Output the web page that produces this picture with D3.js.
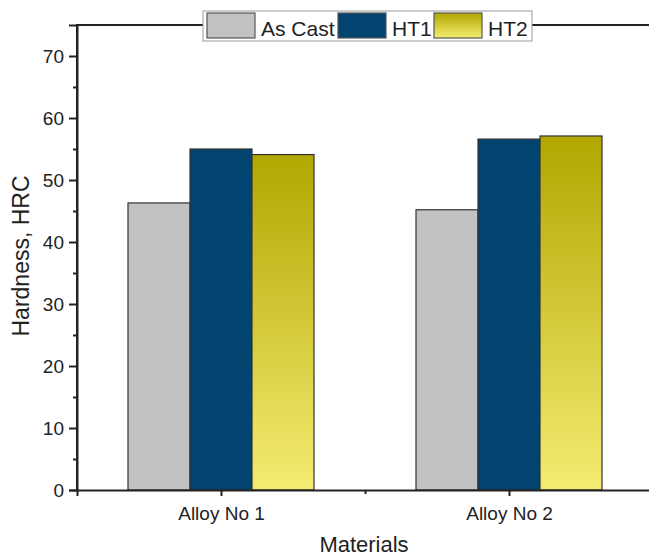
<!DOCTYPE html>
<html><head><meta charset="utf-8">
<script src="https://cdn.jsdelivr.net/npm/d3@7/dist/d3.min.js"></script>
<style>body{margin:0;background:#fff}svg{display:block;font-family:"Liberation Sans",Arial,sans-serif}</style>
</head><body><svg id="c" width="649" height="559"></svg>
<script>
const categories = ["Alloy No 1", "Alloy No 2"];
const seriesNames = ["As Cast", "HT1", "HT2"];
const asCast = [46.3, 45.2];
const ht1 = [55.0, 56.6];
const ht2 = [54.1, 57.1];
const yTicks = [0, 10, 20, 30, 40, 50, 60, 70];

(function () {
const svg = d3.select("#c");
const mLeft = 77, mTop = 25, mBottom = 490, mRight = 653;
const y = d3.scaleLinear().domain([0, 75]).range([mBottom, mTop]);
const x = d3.scaleLinear().domain([0.5, 2.5]).range([mLeft, mRight]);
const barW = 62;

const defs = svg.append("defs");
const g = defs.append("linearGradient").attr("id","ht2g").attr("x1",0).attr("y1",0).attr("x2",0).attr("y2",1);
g.append("stop").attr("offset","0%").attr("stop-color","#b2a600");
g.append("stop").attr("offset","100%").attr("stop-color","#f4ec72");

const fills = ["#c2c2c2", "#02436f", "url(#ht2g)"];
const data = [asCast, ht1, ht2];

data.forEach((vals, s) => {
  svg.append("g").selectAll("rect").data(vals).join("rect")
    .attr("x", (d, i) => x(i + 1) - 1.5 * barW + s * barW)
    .attr("y", d => y(d))
    .attr("width", barW)
    .attr("height", d => y(0) - y(d))
    .attr("fill", fills[s])
    .attr("stroke", "#333")
    .attr("stroke-width", 1.2);
});

svg.append("g").attr("transform", `translate(${mLeft},0)`)
  .call(d3.axisLeft(y).tickValues(yTicks).tickSize(8).tickPadding(5).tickFormat(d3.format("d")));
svg.append("g").attr("transform", `translate(${mLeft},0)`)
  .call(d3.axisLeft(y).tickValues([5,15,25,35,45,55,65]).tickSize(4).tickFormat(""))
  .call(a => a.select(".domain").remove());

svg.append("g").attr("transform", `translate(0,${mBottom})`)
  .call(d3.axisBottom(x).tickValues([1, 2]).tickSize(6).tickPadding(11).tickFormat(d => categories[d - 1]));
svg.append("g").attr("transform", `translate(0,${mBottom})`)
  .call(d3.axisBottom(x).tickValues([1.5]).tickSize(4).tickFormat(""))
  .call(a => a.select(".domain").remove());

svg.selectAll(".tick text").attr("font-size", 19).attr("fill", "#222").attr("font-family", '"Liberation Sans",Arial,sans-serif');
svg.selectAll(".tick line").attr("stroke", "#222").attr("stroke-width", 2);
svg.selectAll(".domain").attr("stroke", "#222").attr("stroke-width", 2);

svg.append("line").attr("x1", mLeft).attr("x2", 649).attr("y1", y(75)).attr("y2", y(75))
  .attr("stroke", "#222").attr("stroke-width", 2);
svg.append("line").attr("x1", mLeft).attr("x2", mLeft).attr("y1", y(75) - 1).attr("y2", mBottom + 1)
  .attr("stroke", "#222").attr("stroke-width", 2);

svg.append("text").attr("x", 364).attr("y", 552).attr("text-anchor", "middle")
  .attr("font-size", 22).attr("fill", "#222").text("Materials");
svg.append("text").attr("transform", `translate(29,256) rotate(-90)`)
  .attr("text-anchor", "middle").attr("font-size", 23).attr("fill", "#222").text("Hardness, HRC");

const lg = svg.append("g");
lg.append("rect").attr("x", 203).attr("y", 11).attr("width", 329).attr("height", 30)
  .attr("fill", "#fff").attr("stroke", "#999").attr("stroke-width", 1);
const swX = [207, 338, 434];
seriesNames.forEach((n, i) => {
  lg.append("rect").attr("x", swX[i]).attr("y", 13).attr("width", 48).attr("height", 25)
    .attr("fill", fills[i]).attr("stroke", "#555").attr("stroke-width", 1.2);
  lg.append("text").attr("x", swX[i] + 54).attr("y", 36).attr("font-size", 21)
    .attr("fill", "#222").text(n);
});
})();
</script></body></html>
